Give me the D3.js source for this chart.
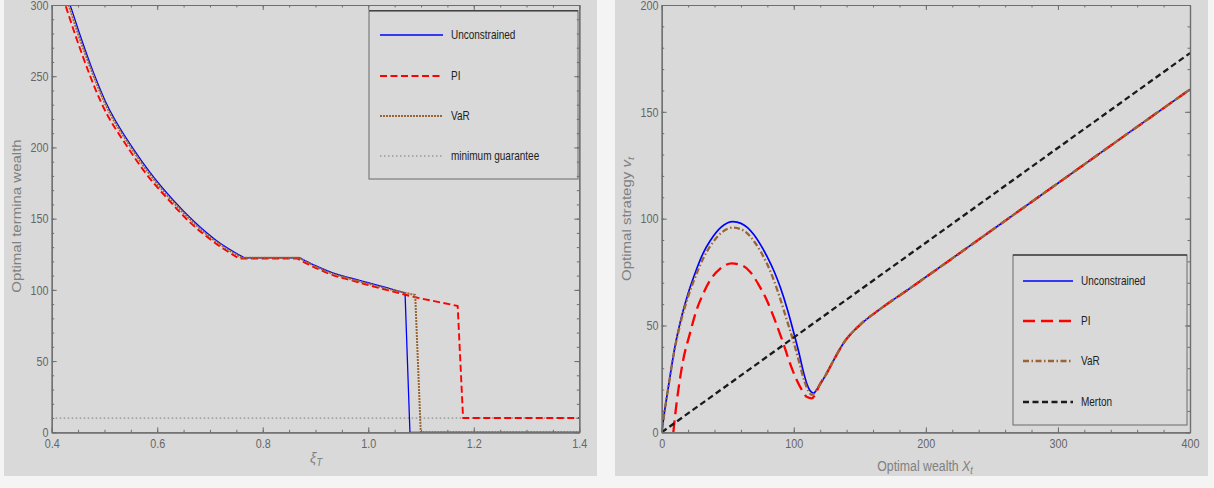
<!DOCTYPE html>
<html>
<head>
<meta charset="utf-8">
<script src="https://cdn.jsdelivr.net/npm/d3@7"></script>
<style>
  body { margin: 0; background: #f4f4f4; }
  svg { display: block; }
  .tick text { font-family: "Liberation Sans", Arial, sans-serif; font-size: 13.5px; fill: #666; }
  .legend text { font-family: "Liberation Sans", Arial, sans-serif; font-size: 12.5px; fill: #222; }
  .title { font-family: "Liberation Sans", Arial, sans-serif; fill: #808080; }
</style>
</head>
<body>
<script>

// ---- left panel: optimal terminal wealth vs xi_T (pieces: curved parts, straight parts) ----
var unconTerminal = [
	[[0.428,306],[0.4347,300],[0.45,283],[0.4808,251],[0.501,233],[0.5547,199],[0.5863,182.5],[0.6305,163],[0.6684,148.5],[0.7127,134.5],[0.765,122.5]],
	[[0.765,122.5],[0.87,122.5]],
	[[0.87,122.5],[0.90,117],[0.934,111.8],[0.97,108],[1.0,105],[1.035,101.5],[1.0697,97.8]],
	[[1.0697,97.8],[1.079,0]],
	[[1.079,0],[1.4,0]]
];
var piTerminal = [
	[[0.42,306],[0.4258,300],[0.441,283],[0.472,251],[0.492,233],[0.546,199],[0.577,182.5],[0.622,163],[0.659,148.5],[0.704,134.5],[0.755,122]],
	[[0.755,122],[0.865,122]],
	[[0.865,122],[0.90,115.5],[0.934,110.2],[0.97,106.5],[1.0,103.4],[1.045,99],[1.089,94.8]],
	[[1.089,94.8],[1.1695,88.7]],
	[[1.1695,88.7],[1.1797,10]],
	[[1.1797,10],[1.4,10]]
];
var varTerminal = [
	[[0.426,306],[0.432,300],[0.447,283],[0.4785,251],[0.4985,233],[0.552,199],[0.583,182.5],[0.627,163],[0.665,148.5],[0.709,134.5],[0.761,122.5]],
	[[0.761,122.5],[0.87,122.5]],
	[[0.87,122.5],[0.90,116.5],[0.934,111.2],[0.97,107.3],[1.0,104.3],[1.045,100],[1.089,96.4]],
	[[1.089,96.4],[1.0995,0]],
	[[1.0995,0],[1.4,0]]
];
var minGuarantee = [[[0.4,10],[1.4,10]]];

var xiTicks = [0.4, 0.6, 0.8, 1.0, 1.2, 1.4];
var wealthTicks = [0, 50, 100, 150, 200, 250, 300];

// ---- right panel: optimal strategy vs optimal wealth ----
var sharedTail = [[124.9,27.6],[130,33.5],[137.5,41.6],[150,50.2],[165,57.5],[188,67.4],[250,94.6],[300,116.6],[350,138.6],[400,160.5]];
var unconStrategy = [
	[[0,0],[2,9],[5,21],[10,40],[15,54],[20,65],[25,74],[31.5,84],[36.6,89.5],[45,96],[54,98.6],[60,97.8],[65,95.8],[70,92.3],[75,87.6],[80,82],[85,75.5],[90,67.5],[95,57.8],[100,46.6],[104,37],[107.2,28.5],[110,22.5],[112.5,19.3],[115.3,18.2]],
	[[115.3,18.2],[119,21.5]].concat(sharedTail)
];
var piStrategy = [
	[[8.8,0],[10,7],[12.6,19.8],[16,33],[21.4,46.3],[26,56.5],[31.5,65],[37,71.5],[44.1,76.5],[53,79.1],[60,78.3],[66.9,75.2],[73,69.5],[79.5,61.9],[86,52],[92.1,41.6],[97,32.5],[102.2,24.5],[107,19],[110,16.5],[113.6,15.9],[116,17.3],[119,21.5]].concat(sharedTail)
];
var varStrategy = [
	[[0,0],[2,9],[5,21],[10,39.5],[15,53],[20,63.5],[25,72],[31.5,81.5],[36.6,87],[45,93.3],[54,95.8],[60,95],[65,93],[70,89.3],[75,84.5],[80,78.5],[85,71],[90,62],[95,52],[100,42],[104,33],[108,24],[111,19.5],[113.6,17.5],[117,19.5],[119,21.5]].concat(sharedTail)
];
var mertonStrategy = [[[0,0],[400,177.5]]];

var wealthXTicks = [0, 100, 200, 300, 400];
var strategyTicks = [0, 50, 100, 150, 200];

var LEFT_LEGEND = ["Unconstrained", "PI", "VaR", "minimum guarantee"];
var RIGHT_LEGEND = ["Unconstrained", "PI", "VaR", "Merton"];

var NARROW = "scale(0.8,1)";


var svg = d3.select("body").append("svg").attr("width", 1214).attr("height", 488);
svg.append("rect").attr("width", 1214).attr("height", 488).attr("fill", "#f4f4f4");


function range(a, b, step) {
	var out = [];
	for (var v = a; v <= b + step / 1000; v += step) out.push(+v.toFixed(6));
	return out;
}

// join pieces into one path; a two point piece comes out straight
function piecesPath(pieces, x, y) {
	var line = d3.line().x(function(d) { return x(d[0]); }).y(function(d) { return y(d[1]); }).curve(d3.curveMonotoneX);
	var d = "";
	pieces.forEach(function(p, i) {
		var s = line(p);
		d += (i === 0) ? s : "L" + s.slice(1);
	});
	return d;
}

function drawFrame(g, x, y, xMajor, xMinor, yMajor, yMinor, xFmt, yFmt) {
	var x0 = x.range()[0], x1 = x.range()[1], y0 = y.range()[0], y1 = y.range()[1];
	var axes = [
		{ gen: d3.axisBottom(x), tr: "translate(0," + y0 + ")", maj: xMajor, min: xMinor, fmt: xFmt, pad: 6 },
		{ gen: d3.axisTop(x), tr: "translate(0," + y1 + ")", maj: xMajor, min: xMinor, fmt: "" },
		{ gen: d3.axisLeft(y), tr: "translate(" + x0 + ",0)", maj: yMajor, min: yMinor, fmt: yFmt, pad: 4 },
		{ gen: d3.axisRight(y), tr: "translate(" + x1 + ",0)", maj: yMajor, min: yMinor, fmt: "" }
	];
	axes.forEach(function(a) {
		var ga = g.append("g").attr("transform", a.tr);
		ga.call(a.gen.tickValues(a.min).tickSize(-2.5).tickSizeOuter(0).tickFormat(""));
		ga.append("g").call(a.gen.tickValues(a.maj).tickSize(-5).tickSizeOuter(0).tickPadding(a.pad || 3).tickFormat(a.fmt === "" ? "" : a.fmt));
		ga.selectAll("path.domain").attr("stroke", "#6e6e6e").attr("stroke-width", 1.2);
		ga.selectAll(".tick line").attr("stroke", "#6e6e6e");
		ga.selectAll(".tick text").attr("transform", NARROW);
		ga.attr("font-family", null).attr("font-size", null);
		ga.selectAll("g").attr("font-family", null).attr("font-size", null);
	});
}

function drawLegend(g, box, rows, entries, styles) {
	var lg = g.append("g").attr("class", "legend");
	lg.append("rect").attr("x", box[0]).attr("y", box[1]).attr("width", box[2] - box[0]).attr("height", box[3] - box[1])
		.attr("fill", "none").attr("stroke", "#6a6a6a").attr("stroke-width", 1);
	lg.append("line").attr("x1", box[0]).attr("x2", box[2]).attr("y1", box[1]).attr("y2", box[1])
		.attr("stroke", "#444").attr("stroke-width", 1.6);
	entries.forEach(function(name, i) {
		var st = styles[i];
		lg.append("line").attr("x1", rows.lx0).attr("x2", rows.lx1).attr("y1", rows.ys[i]).attr("y2", rows.ys[i])
			.attr("stroke", st.color).attr("stroke-width", st.width).attr("stroke-dasharray", st.dash || null);
		lg.append("text").attr("transform", "translate(" + rows.tx + "," + rows.ys[i] + ") " + NARROW)
			.attr("dy", "0.35em").text(name);
	});
}

function drawSeries(g, list, x, y, clipId) {
	var sg = g.append("g").attr("clip-path", "url(#" + clipId + ")");
	list.forEach(function(s) {
		sg.append("path").attr("d", piecesPath(s.data, x, y)).attr("fill", "none")
			.attr("stroke", s.style.color).attr("stroke-width", s.style.width)
			.attr("stroke-dasharray", s.style.dash || null).attr("stroke-linejoin", "round");
	});
}

function addClip(id, x, y) {
	svg.append("clipPath").attr("id", id).append("rect")
		.attr("x", x.range()[0]).attr("y", y.range()[1])
		.attr("width", x.range()[1] - x.range()[0]).attr("height", y.range()[0] - y.range()[1]);
}


// ===== left panel =====
svg.append("rect").attr("x", 4).attr("y", 0).attr("width", 593).attr("height", 476).attr("fill", "#d9d9d9");
var gL = svg.append("g");
var xL = d3.scaleLinear().domain([0.4, 1.4]).range([51.7, 579.3]);
var yL = d3.scaleLinear().domain([0, 300]).range([432.3, 5]);
addClip("clipL", xL, yL);

var leftStyles = [
	{ color: "#0000ff", width: 1.3 },
	{ color: "#ff0000", width: 1.9, dash: "7,3.5" },
	{ color: "#996633", width: 2, dash: "2,1" },
	{ color: "#7a7a7a", width: 1, dash: "1.5,2.5" }
];
drawSeries(gL, [
	{ data: minGuarantee, style: leftStyles[3] },
	{ data: unconTerminal, style: leftStyles[0] },
	{ data: piTerminal, style: leftStyles[1] },
	{ data: varTerminal, style: leftStyles[2] }
], xL, yL, "clipL");

drawFrame(gL, xL, yL, xiTicks, range(0.4, 1.4, 0.05), wealthTicks, range(0, 300, 10), d3.format(".1f"), d3.format("d"));

gL.append("text").attr("class", "title").attr("font-size", 12.5)
	.attr("transform", "translate(21,216) rotate(-90) scale(1.2,1)")
	.attr("text-anchor", "middle").text("Optimal termina wealth");
var xiT = gL.append("text").attr("class", "title").attr("font-size", 14).attr("font-style", "italic")
	.attr("x", 310).attr("y", 463);
xiT.append("tspan").text("ξ");
xiT.append("tspan").attr("font-size", 10).attr("dy", 3).text("T");

drawLegend(gL, [369, 10.7, 578, 179], { lx0: 380, lx1: 443, tx: 451, ys: [35, 76, 116, 156] }, LEFT_LEGEND, leftStyles);


// ===== right panel =====
svg.append("rect").attr("x", 615).attr("y", 0).attr("width", 593).attr("height", 476).attr("fill", "#d9d9d9");
var gR = svg.append("g");
var xR = d3.scaleLinear().domain([0, 400]).range([661.7, 1190]);
var yR = d3.scaleLinear().domain([0, 200]).range([432.3, 5]);
addClip("clipR", xR, yR);

var rightStyles = [
	{ color: "#0000ff", width: 1.7 },
	{ color: "#ff0000", width: 2.3, dash: "12,6" },
	{ color: "#996633", width: 2.3, dash: "6,2.5,1.5,2.5" },
	{ color: "#1a1a1a", width: 2.3, dash: "6,3.5" }
];
drawSeries(gR, [
	{ data: unconStrategy, style: rightStyles[0] },
	{ data: piStrategy, style: rightStyles[1] },
	{ data: varStrategy, style: rightStyles[2] },
	{ data: mertonStrategy, style: rightStyles[3] }
], xR, yR, "clipR");

drawFrame(gR, xR, yR, wealthXTicks, range(0, 400, 20), strategyTicks, range(0, 200, 10), d3.format("d"), d3.format("d"));

var vT = gR.append("text").attr("class", "title").attr("font-size", 12.5)
	.attr("transform", "translate(631,219) rotate(-90) scale(1.2,1)").attr("text-anchor", "middle");
vT.append("tspan").text("Optimal strategy ");
vT.append("tspan").attr("font-style", "italic").text("v");
vT.append("tspan").attr("font-style", "italic").attr("font-size", 9).attr("dy", 3).text("t");

var xT = gR.append("text").attr("class", "title").attr("font-size", 14.5)
	.attr("transform", "translate(925,471) scale(0.85,1)").attr("text-anchor", "middle");
xT.append("tspan").text("Optimal wealth ");
xT.append("tspan").attr("font-style", "italic").text("X");
xT.append("tspan").attr("font-style", "italic").attr("font-size", 10.5).attr("dy", 3).text("t");

drawLegend(gR, [1013, 255, 1187, 425], { lx0: 1023, lx1: 1073, tx: 1081, ys: [281, 321, 361, 402] }, RIGHT_LEGEND, rightStyles);

</script>
</body>
</html>
